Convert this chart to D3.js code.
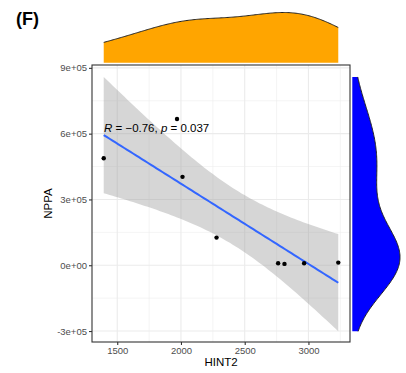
<!DOCTYPE html>
<html><head><meta charset="utf-8">
<script src="https://cdn.jsdelivr.net/npm/d3@7"></script>
<style>body{margin:0;background:#fff}svg{display:block;font-family:"Liberation Sans",Arial,sans-serif}</style>
</head><body><svg id="c" width="406" height="373"></svg>
<script>
const hint2 = [1394, 1969, 2012, 2279, 2762, 2812, 2966, 3234];
const nppa  = [488000, 667000, 403000, 126000, 9000, 6000, 9000, 12000];
const xTicks = [1500, 2000, 2500, 3000];
const xTickLabels = ["1500", "2000", "2500", "3000"];
const yTicks = [-300000, 0, 300000, 600000, 900000];
const yTickLabels = ["-3e+05", "0e+00", "3e+05", "6e+05", "9e+05"];
const statLabel = {R: "−0.76", p: "0.037"};

const svg = d3.select("#c");
const P = {l: 92, r: 350, t: 65, b: 342};
const x = d3.scaleLinear().domain([1302, 3326]).range([P.l, P.r]);
const y = d3.scaleLinear().domain([-350000, 913000]).range([P.b, P.t]);

// regression
const n = hint2.length;
const mx = d3.mean(hint2), my = d3.mean(nppa);
let sxx = 0, sxy = 0;
for (let i = 0; i < n; i++) { sxx += (hint2[i]-mx)**2; sxy += (hint2[i]-mx)*(nppa[i]-my); }
const b = sxy / sxx, a = my - b*mx;
let ssr = 0;
for (let i = 0; i < n; i++) ssr += (nppa[i] - (a + b*hint2[i]))**2;
const s = Math.sqrt(ssr / (n-2));
const tcrit = 2.446912;
const xs = d3.range(0, 81).map(i => d3.min(hint2) + (d3.max(hint2)-d3.min(hint2))*i/80);
const band = xs.map(v => {
  const f = a + b*v;
  const se = s*Math.sqrt(1/n + (v-mx)**2/sxx);
  return {x: v, f, lo: f - tcrit*se, hi: f + tcrit*se};
});

// grid
const g = svg.append("g");
g.append("rect").attr("x",P.l).attr("y",P.t).attr("width",P.r-P.l).attr("height",P.b-P.t).attr("fill","#fff");
const xMinor = [1750, 2250, 2750, 3250];
const yMinor = [-150000, 150000, 450000, 750000];
xMinor.forEach(v => g.append("line").attr("x1",x(v)).attr("x2",x(v)).attr("y1",P.t).attr("y2",P.b).attr("stroke","#ebebeb").attr("stroke-width",0.55));
yMinor.forEach(v => g.append("line").attr("y1",y(v)).attr("y2",y(v)).attr("x1",P.l).attr("x2",P.r).attr("stroke","#ebebeb").attr("stroke-width",0.55));
xTicks.forEach(v => g.append("line").attr("x1",x(v)).attr("x2",x(v)).attr("y1",P.t).attr("y2",P.b).attr("stroke","#ebebeb").attr("stroke-width",1.1));
yTicks.forEach(v => g.append("line").attr("y1",y(v)).attr("y2",y(v)).attr("x1",P.l).attr("x2",P.r).attr("stroke","#ebebeb").attr("stroke-width",1.1));

// ribbon
g.append("path").datum(band)
  .attr("d", d3.area().x(d=>x(d.x)).y0(d=>y(d.lo)).y1(d=>y(d.hi)))
  .attr("fill","#999999").attr("fill-opacity",0.4);
g.append("path").datum(band)
  .attr("d", d3.line().x(d=>x(d.x)).y(d=>y(d.f)))
  .attr("fill","none").attr("stroke","#3366FF").attr("stroke-width",2);

// points
g.selectAll("circle.pt").data(hint2).enter().append("circle")
  .attr("cx",(d)=>x(d)).attr("cy",(d,i)=>y(nppa[i])).attr("r",2.2).attr("fill","#000");

// annotation
const t = g.append("text").attr("x",104).attr("y",131.5).attr("font-size",11.5).attr("fill","#000");
t.append("tspan").attr("font-style","italic").text("R");
t.append("tspan").text(" = " + statLabel.R + ", ");
t.append("tspan").attr("font-style","italic").text("p");
t.append("tspan").text(" = " + statLabel.p);

// border
g.append("rect").attr("x",P.l).attr("y",P.t).attr("width",P.r-P.l).attr("height",P.b-P.t).attr("fill","none").attr("stroke","#333").attr("stroke-width",1.1);

// axes
const xa = svg.append("g").attr("transform",`translate(0,${P.b})`)
  .call(d3.axisBottom(x).tickValues(xTicks).tickFormat((d,i)=>xTickLabels[i]).tickSize(3).tickPadding(2));
const ya = svg.append("g").attr("transform",`translate(${P.l},0)`)
  .call(d3.axisLeft(y).tickValues(yTicks).tickFormat((d,i)=>yTickLabels[i]).tickSize(3).tickPadding(2));
[xa, ya].forEach(ax => {
  ax.select(".domain").remove();
  ax.selectAll(".tick line").attr("stroke","#333").attr("stroke-width",1.1);
  ax.selectAll(".tick text").attr("fill","#4d4d4d").attr("font-size",9.5).attr("font-family","Liberation Sans, Arial, sans-serif");
});

svg.append("text").attr("x",(P.l+P.r)/2).attr("y",366).attr("text-anchor","middle").attr("font-size",11.5).text("HINT2");
svg.append("text").attr("transform",`translate(52,${(P.t+P.b)/2}) rotate(-90)`).attr("text-anchor","middle").attr("font-size",11.5).text("NPPA");

// marginal densities (gaussian KDE, nrd0 bandwidth)
function nrd0(v) {
  const sd = d3.deviation(v);
  const sorted = v.slice().sort(d3.ascending);
  const iqr = d3.quantileSorted(sorted,0.75) - d3.quantileSorted(sorted,0.25);
  return 0.9*Math.min(sd, iqr/1.34)*Math.pow(v.length,-0.2);
}
function kde(v, lo, hi) {
  const h = nrd0(v);
  return d3.range(0,201).map(i => {
    const p = lo + (hi-lo)*i/200;
    return [p, d3.mean(v, d => Math.exp(-0.5*((p-d)/h)**2))/(h*Math.sqrt(2*Math.PI))];
  });
}
// top (x)
const dx = kde(hint2, d3.min(hint2), d3.max(hint2));
const dyTop = d3.scaleLinear().domain([0, d3.max(dx, d=>d[1])]).range([62.7, 12.5]);
svg.append("path").datum(dx)
  .attr("d", d3.area().x(d=>x(d[0])).y0(62.7).y1(d=>dyTop(d[1])))
  .attr("fill","#FFA500");
svg.append("path").datum(dx)
  .attr("d", d3.line().x(d=>x(d[0])).y(d=>dyTop(d[1])))
  .attr("fill","none").attr("stroke","#222").attr("stroke-width",1);
// right (y)
const yLo = d3.min(band, d=>d.lo), yHi = d3.max(band, d=>d.hi);
const dyv = kde(nppa, yLo, yHi);
const dxR = d3.scaleLinear().domain([0, d3.max(dyv, d=>d[1])]).range([352.3, 400]);
svg.append("path").datum(dyv)
  .attr("d", d3.area().y(d=>y(d[0])).x0(352.3).x1(d=>dxR(d[1])))
  .attr("fill","#0000FF");
svg.append("path").datum(dyv)
  .attr("d", d3.line().y(d=>y(d[0])).x(d=>dxR(d[1])))
  .attr("fill","none").attr("stroke","#222").attr("stroke-width",1);

svg.append("text").attr("x",16).attr("y",25).attr("font-size",18).attr("font-weight","bold").text("(F)");
</script></body></html>
